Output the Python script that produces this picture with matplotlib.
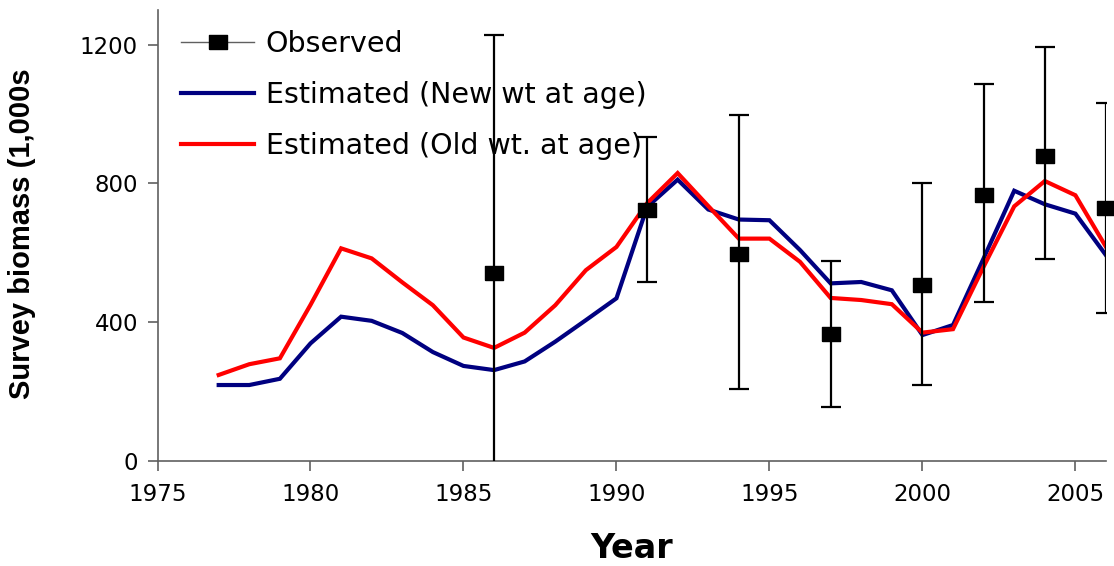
import matplotlib
matplotlib.use("Agg")
import matplotlib.pyplot as plt
from matplotlib.lines import Line2D
import numpy as np

plt.rcParams['font.family'] = ['DejaVu Sans']

years = list(range(1977, 2007))
new_wt = [219, 219, 237, 339, 416, 404, 369, 314, 274, 262, 287, 344, 406, 469,
          732, 811, 725, 696, 694, 608, 512, 516, 492, 363, 392, 584, 779, 740, 713, 593]
old_wt = [248, 279, 296, 450, 613, 584, 515, 449, 356, 326, 370, 449, 550, 617,
          743, 830, 735, 641, 641, 574, 470, 464, 452, 370, 380, 560, 734, 807, 766, 617]

obs_years = [1986, 1991, 1994, 1997, 2000, 2002, 2004, 2006]
obs_vals = [543, 723, 596, 365, 506, 768, 880, 728]
obs_upper = [1229, 934, 997, 576, 802, 1086, 1192, 1031]
obs_lower = [-140, 516, 208, 155, 219, 457, 582, 427]

W, H = 1114, 566
fig = plt.figure(figsize=(W / 100, H / 100), dpi=100)
ax = fig.add_axes([157.5 / W, 1 - 461 / H, (1106 - 157.5) / W, (461 - 10) / H])

navy = '#000080'
red = '#ff0000'
ax.plot(years, new_wt, color=navy, lw=3.0, zorder=3, solid_joinstyle='miter')
ax.plot(years, old_wt, color=red, lw=3.0, zorder=4, solid_joinstyle='miter')

obs_vals_a = np.array(obs_vals)
yerr = np.vstack([obs_vals_a - np.array(obs_lower), np.array(obs_upper) - obs_vals_a])
rect = [(-1, -0.78), (1, -0.78), (1, 0.78), (-1, 0.78), (-1, -0.78)]
ax.errorbar(obs_years, obs_vals, yerr=yerr, fmt='none', ecolor='black', elinewidth=1.6,
            capsize=7.5, capthick=1.6, zorder=5)
ax.plot(obs_years, obs_vals, linestyle='none', marker=rect, markersize=13.5,
        color='black', zorder=6, clip_on=False)

ax.set_xlim(1975, 2006)
ax.set_ylim(0, 1300)
ax.set_xticks([1975, 1980, 1985, 1990, 1995, 2000, 2005])
ax.set_yticks([0, 400, 800, 1200])
for s in ['top', 'right']:
    ax.spines[s].set_visible(False)
for s in ['left', 'bottom']:
    ax.spines[s].set_color('#606060')
    ax.spines[s].set_linewidth(1.2)
ax.tick_params(axis='both', direction='out', length=7, width=1.2, color='#606060',
               labelsize=16.5, labelcolor='black')
ax.tick_params(axis='x', pad=9)
ax.tick_params(axis='y', pad=7)

ax.set_xlabel('Year', fontsize=24, fontweight='bold')
ax.xaxis.set_label_coords((632 - 157.5) / (1106 - 157.5), -(549 - 461) / (461 - 10))
ax.xaxis.label.set_verticalalignment('center')
ax.set_ylabel('Survey biomass (1,000s', fontsize=21, fontweight='bold',
              family=['Liberation Sans', 'DejaVu Sans'])
ax.yaxis.set_label_coords(-(157.5 - 22) / (1106 - 157.5), (461 - 234) / (461 - 10))
ax.yaxis.label.set_verticalalignment('center')

handles = [
    Line2D([0], [0], color='#606060', lw=1.0, marker=rect, markersize=13.5,
           markerfacecolor='black', markeredgecolor='black'),
    Line2D([0], [0], color=navy, lw=3.0),
    Line2D([0], [0], color=red, lw=3.0),
]
labels = ['Observed', 'Estimated (New wt at age)', 'Estimated (Old wt. at age)']
leg = ax.legend(handles, labels, loc='upper left', bbox_to_anchor=(0.013, 0.981),
                frameon=False, fontsize=20.5, handlelength=2.55, handletextpad=0.42,
                labelspacing=0.8, borderaxespad=0.0)
leg.set_zorder(1)

fig.savefig('out.png', dpi=100)
